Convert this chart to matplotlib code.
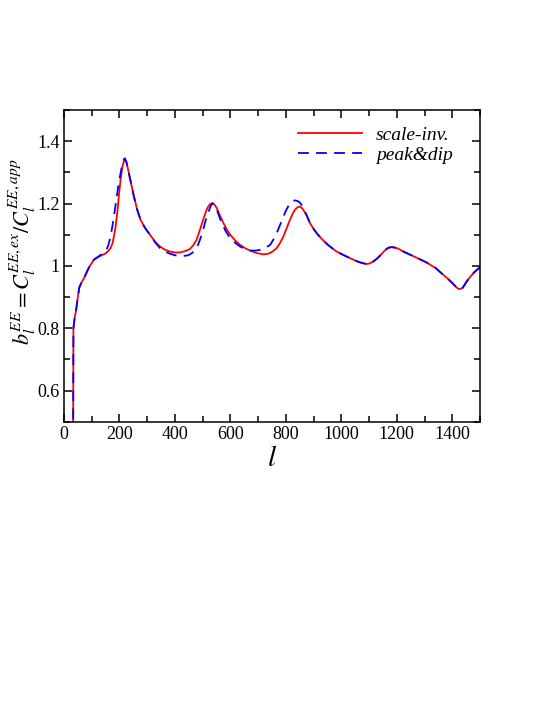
import matplotlib
matplotlib.use("Agg")
import matplotlib.pyplot as plt
from matplotlib.ticker import MultipleLocator, FuncFormatter

# scale-invariant spectrum ratio
l_red = [33, 34, 38, 44, 50, 55, 62, 72, 90, 108, 132, 150, 160, 168, 175, 180,
         186, 192, 198, 204, 210, 214, 218, 222, 226, 234, 243, 252, 264, 276,
         292, 310, 328, 346, 364, 382, 400, 418, 436, 454, 466, 478, 490, 502,
         512, 520, 528, 536, 544, 551, 562, 575, 587, 599, 617, 635, 653, 671,
         695, 719, 731, 743, 755, 767, 779, 791, 803, 815, 824, 833, 841, 849,
         856, 863, 875, 887, 899, 911, 929, 947, 965, 983, 1007, 1031, 1050,
         1068, 1080, 1091, 1103, 1115, 1127, 1139, 1150, 1160, 1170, 1181,
         1190, 1200, 1212, 1223, 1265, 1307, 1340, 1368, 1385, 1400, 1412,
         1422, 1430, 1438, 1445, 1452, 1465, 1480, 1500]
b_red = [0.45, 0.80, 0.83, 0.86, 0.90, 0.93, 0.945, 0.96, 0.995, 1.02, 1.032,
         1.04, 1.048, 1.057, 1.072, 1.094, 1.125, 1.169, 1.225, 1.276, 1.315,
         1.33, 1.338, 1.338, 1.33, 1.297, 1.26, 1.223, 1.18, 1.148, 1.122, 1.10,
         1.078, 1.062, 1.052, 1.046, 1.043, 1.043, 1.047, 1.054, 1.066, 1.083,
         1.115, 1.148, 1.175, 1.19, 1.199, 1.201, 1.195, 1.185, 1.162, 1.137,
         1.117, 1.10, 1.082, 1.067, 1.057, 1.049, 1.041, 1.037, 1.038, 1.041,
         1.048, 1.057, 1.073, 1.094, 1.121, 1.148, 1.166, 1.18, 1.187, 1.19,
         1.187, 1.18, 1.161, 1.137, 1.12, 1.105, 1.087, 1.071, 1.058, 1.046,
         1.035, 1.025, 1.017, 1.011, 1.008, 1.006, 1.008, 1.014, 1.022, 1.032,
         1.043, 1.052, 1.058, 1.06, 1.059, 1.057, 1.052, 1.046, 1.029, 1.011,
         0.993, 0.971, 0.958, 0.945, 0.934, 0.926, 0.926, 0.93, 0.94, 0.95,
         0.965, 0.98, 0.996]

# peak & dip spectrum ratio
l_blue = [33, 34, 38, 44, 50, 55, 62, 72, 90, 108, 132, 150, 160, 168, 174, 180,
          186, 192, 198, 204, 210, 216, 220, 226, 234, 243, 252, 264, 276, 292,
          310, 328, 346, 364, 382, 400, 418, 433, 448, 460, 472, 482, 490, 500,
          508, 516, 524, 530, 536, 543, 551, 560, 569, 584, 599, 617, 635, 653,
          671, 689, 707, 725, 743, 755, 767, 779, 791, 803, 815, 824, 833, 842,
          851, 860, 869, 878, 887, 899, 911, 929, 947, 965, 983, 1007, 1031,
          1050, 1068, 1080, 1091, 1103, 1115, 1127, 1139, 1150, 1160, 1170,
          1181, 1190, 1200, 1212, 1223, 1265, 1307, 1340, 1368, 1385, 1400,
          1412, 1422, 1430, 1438, 1445, 1452, 1465, 1480, 1500]
b_blue = [0.45, 0.80, 0.83, 0.86, 0.90, 0.93, 0.945, 0.96, 0.995, 1.02, 1.035,
          1.046, 1.066, 1.094, 1.125, 1.158, 1.195, 1.233, 1.268, 1.297, 1.325,
          1.342, 1.345, 1.33, 1.297, 1.26, 1.223, 1.18, 1.148, 1.122, 1.10,
          1.076, 1.057, 1.046, 1.039, 1.034, 1.032, 1.032, 1.034, 1.04, 1.049,
          1.064, 1.083, 1.108, 1.137, 1.16, 1.18, 1.194, 1.201, 1.193, 1.18,
          1.158, 1.137, 1.11, 1.089, 1.074, 1.062, 1.054, 1.049, 1.049, 1.051,
          1.057, 1.067, 1.084, 1.105, 1.131, 1.158, 1.182, 1.201, 1.208, 1.21,
          1.208, 1.203, 1.19, 1.174, 1.157, 1.137, 1.12, 1.105, 1.087, 1.071,
          1.058, 1.046, 1.035, 1.025, 1.017, 1.011, 1.008, 1.006, 1.008, 1.014,
          1.022, 1.032, 1.043, 1.052, 1.058, 1.06, 1.059, 1.057, 1.052, 1.046,
          1.029, 1.011, 0.993, 0.971, 0.958, 0.945, 0.934, 0.926, 0.926, 0.93,
          0.94, 0.95, 0.965, 0.98, 0.996]

plt.rcParams['font.family'] = ['Liberation Serif', 'DejaVu Serif']
plt.rcParams['mathtext.fontset'] = 'stix'

fig = plt.figure(figsize=(5.45, 7.05), dpi=100)
ax = fig.add_axes([0.1174, 0.4018, 0.7633, 0.4422])

ax.plot(l_red, b_red, color='red', lw=1.3, label='scale-inv.')
ax.plot(l_blue, b_blue, color='blue', lw=1.3, dashes=(6, 4), label='peak&dip')

ax.set_xlim(0, 1500)
ax.set_ylim(0.5, 1.5)
ax.xaxis.set_major_locator(MultipleLocator(200))
ax.xaxis.set_minor_locator(MultipleLocator(100))
ax.yaxis.set_major_locator(MultipleLocator(0.2))
ax.yaxis.set_minor_locator(MultipleLocator(0.1))
ax.yaxis.set_major_formatter(FuncFormatter(lambda v, p: '%g' % round(v, 2)))
ax.tick_params(which='both', direction='in', top=True, right=True, width=1.1,
               labelsize=13, pad=3)
ax.tick_params(which='major', length=6)
ax.tick_params(which='minor', length=4.5)
for s in ax.spines.values():
    s.set_linewidth(1.1)

ax.set_xlabel(r'$l$', fontsize=21, labelpad=2)
ax.set_ylabel(r'$b_l^{EE} = C_l^{EE,ex}/C_l^{EE,app}$', fontsize=16, va='center')
ax.yaxis.set_label_coords(-0.101, 0.545)

leg = ax.legend(loc='upper right', frameon=False, handlelength=3.3,
                handletextpad=0.7,
                prop={'family': 'Liberation Serif', 'style': 'italic', 'size': 14},
                borderaxespad=0.5, labelspacing=0.12,
                bbox_to_anchor=(0.976, 1.003))

fig.savefig('out.png', dpi=100)
